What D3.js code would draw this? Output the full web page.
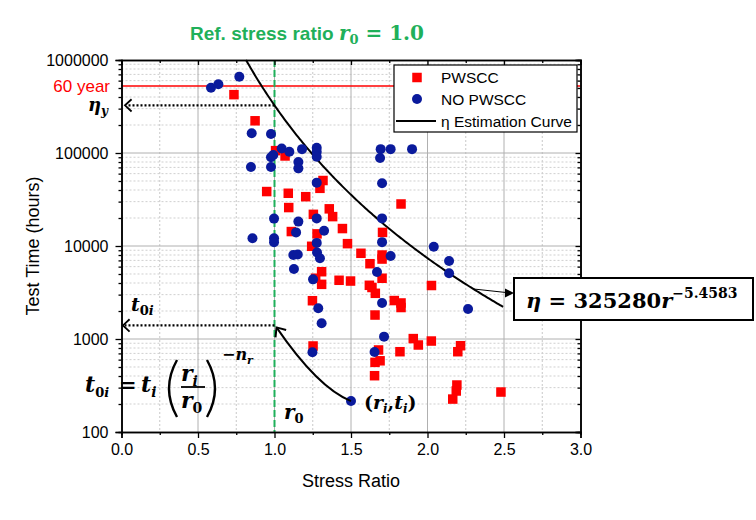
<!DOCTYPE html>
<html><head><meta charset="utf-8">
<script src="https://cdn.jsdelivr.net/npm/d3@7"></script>
<style>body{margin:0;background:#fff}</style>
</head><body>
<svg id="c" width="756" height="520"></svg>
<script>
// ---------- data ----------
const xTicks = [0, 0.5, 1, 1.5, 2, 2.5, 3];
const xTickLabels = ["0.0", "0.5", "1.0", "1.5", "2.0", "2.5", "3.0"];
const yTicks = [100, 1000, 10000, 100000, 1000000];
const yTickLabels = ["100", "1000", "10000", "100000", "1000000"];

const pwsccR = [0.735, 0.873, 1.007, 1.069, 1.317, 1.297, 0.949, 1.09, 1.204, 1.093, 1.358, 1.38, 1.254, 1.444, 1.11, 1.278, 1.477, 1.243, 1.565, 1.706, 1.703, 1.703, 1.624, 1.703, 1.62, 1.637, 1.659, 1.783, 1.827, 1.827, 1.657, 1.827, 2.026, 1.308, 1.269, 1.308, 1.422, 1.497, 1.248, 1.252, 1.907, 1.94, 2.025, 1.68, 1.82, 2.216, 2.198, 1.657, 1.69, 1.654, 2.192, 2.188, 2.165, 2.48];
const pwsccT = [424000, 222000, 106000, 92900, 50600, 41700, 38500, 36900, 33900, 25900, 25100, 20700, 21900, 15400, 14300, 13500, 10600, 9930, 8350, 14000, 8000, 7240, 6450, 4500, 3780, 3580, 3100, 2590, 2440, 2180, 1810, 28300, 3760, 5290, 4500, 3870, 4280, 4200, 2580, 841, 1010, 862, 951, 762, 730, 847, 730, 561, 583, 403, 320, 276, 226, 269];

const noPwsccR = [0.77, 0.585, 0.633, 0.851, 0.977, 1.047, 1.097, 1.18, 1.276, 1.276, 1.276, 0.977, 0.992, 0.846, 0.977, 1.156, 1.156, 1.276, 0.997, 1.156, 1.276, 1.141, 1.324, 0.856, 0.997, 0.997, 1.276, 1.123, 1.152, 1.127, 1.278, 1.297, 1.252, 1.286, 1.308, 1.248, 1.5, 1.694, 1.759, 1.899, 1.69, 1.703, 1.703, 1.703, 2.041, 1.759, 2.141, 2.141, 1.67, 1.703, 2.265, 1.716, 1.654];
const noPwsccT = [661000, 504000, 548000, 163000, 160000, 112000, 103000, 110000, 114000, 103000, 91000, 90000, 95000, 70700, 70700, 80000, 68400, 48000, 19700, 18300, 19800, 14000, 14600, 12100, 12100, 11000, 10800, 8000, 8100, 5660, 8500, 7380, 4380, 2140, 1475, 721, 215, 110000, 110000, 110000, 88300, 47200, 19800, 11000, 9830, 7800, 6900, 5090, 5250, 2440, 2100, 1060, 725];

const curveA = 325280;
const curveN = 5.4583;
const curveR = [0.814, 2.5];        // range of the estimation curve
const sixtyYearHours = 525600;      // 60 years
const refRatio = 1.0;
const exampleR = 1.5, exampleT = 215;   // (r_i, t_i)
const t0iValue = 1400;
const pointerR = 2.3;               // where the equation pointer touches the curve

// ---------- setup ----------
const svg = d3.select("#c");
const L = 121.5, R = 580.5, T = 60, B = 432;
const x = d3.scaleLinear().domain([0, 3]).range([L, R]);
const y = d3.scaleLog().domain([100, 1000000]).range([B, T]);
const sans = "'Liberation Sans', Arial, sans-serif";
const serif = "'DejaVu Serif', serif";
const RED = "#ff0000", BLUE = "#0a1a9c", GREEN = "#1fb05a";

// ---------- grid ----------
const g = svg.append("g");
const minorX = d3.range(0.25, 3, 0.5);
g.selectAll(".mx").data(minorX).enter().append("line")
  .attr("x1", d => x(d)).attr("x2", d => x(d)).attr("y1", T).attr("y2", B)
  .attr("stroke", "#c8c8c8").attr("stroke-width", 1).attr("stroke-dasharray", "2,2");
const minorY = [];
[100, 1000, 10000, 100000].forEach(d => { for (let k = 2; k <= 9; k++) minorY.push(d * k); });
g.selectAll(".my").data(minorY).enter().append("line")
  .attr("x1", L).attr("x2", R).attr("y1", d => y(d)).attr("y2", d => y(d))
  .attr("stroke", "#cfcfcf").attr("stroke-width", 1).attr("stroke-dasharray", "2,2");
g.selectAll(".gx").data(xTicks.slice(1, -1)).enter().append("line")
  .attr("x1", d => x(d)).attr("x2", d => x(d)).attr("y1", T).attr("y2", B)
  .attr("stroke", "#b0b0b0").attr("stroke-width", 1);
g.selectAll(".gy").data(yTicks.slice(1, -1)).enter().append("line")
  .attr("x1", L).attr("x2", R).attr("y1", d => y(d)).attr("y2", d => y(d))
  .attr("stroke", "#b0b0b0").attr("stroke-width", 1);

// ---------- 60 year line ----------
svg.append("line").attr("x1", L).attr("x2", R).attr("y1", y(sixtyYearHours)).attr("y2", y(sixtyYearHours))
  .attr("stroke", RED).attr("stroke-width", 1.3);

// ---------- reference line ----------
svg.append("line").attr("x1", x(refRatio)).attr("x2", x(refRatio)).attr("y1", T).attr("y2", B)
  .attr("stroke", GREEN).attr("stroke-width", 2).attr("stroke-dasharray", "7,3");

// ---------- estimation curve ----------
const eta = r => curveA * Math.pow(r, -curveN);
const cr = d3.range(curveR[0], curveR[1] + 0.0001, 0.01);
svg.append("path").datum(cr)
  .attr("d", d3.line().x(d => x(d)).y(d => y(eta(d))))
  .attr("fill", "none").attr("stroke", "#000").attr("stroke-width", 2);

// ---------- points ----------
const sq = 9.5;
svg.append("g").selectAll("rect").data(pwsccR).enter().append("rect")
  .attr("x", d => x(d) - sq / 2).attr("y", (d, i) => y(pwsccT[i]) - sq / 2)
  .attr("width", sq).attr("height", sq).attr("fill", RED);
svg.append("g").selectAll("circle").data(noPwsccR).enter().append("circle")
  .attr("cx", d => x(d)).attr("cy", (d, i) => y(noPwsccT[i])).attr("r", 5).attr("fill", BLUE);

// ---------- axes ----------
function styleAxis(sel) {
  sel.select(".domain").attr("stroke", "#000").attr("stroke-width", 1.5);
  sel.selectAll(".tick line").attr("stroke", "#000").attr("stroke-width", 1.3);
  sel.selectAll("text").attr("font-family", sans).attr("font-size", 16).attr("fill", "#000");
}
const minorXTicks = d3.range(0.25, 3, 0.5);
svg.append("g").attr("transform", `translate(0,${B})`)
  .call(d3.axisBottom(x).tickValues(xTicks).tickFormat((d, i) => xTickLabels[i]).tickSizeOuter(0).tickSize(6).tickPadding(6))
  .call(styleAxis);
svg.append("g").attr("transform", `translate(0,${B})`)
  .call(d3.axisBottom(x).tickValues(minorXTicks).tickFormat("").tickSizeOuter(0).tickSize(3))
  .call(styleAxis);
svg.append("g").attr("transform", `translate(0,${T})`)
  .call(d3.axisBottom(x).tickValues(xTicks).tickFormat("").tickSizeOuter(0).tickSize(5))
  .call(styleAxis);
svg.append("g").attr("transform", `translate(0,${T})`)
  .call(d3.axisBottom(x).tickValues(minorXTicks).tickFormat("").tickSizeOuter(0).tickSize(3))
  .call(styleAxis);
svg.append("g").attr("transform", `translate(${L},0)`)
  .call(d3.axisLeft(y).tickValues(yTicks).tickFormat((d, i) => yTickLabels[i]).tickSizeOuter(0).tickSize(6).tickPadding(7))
  .call(styleAxis);
svg.append("g").attr("transform", `translate(${L},0)`)
  .call(d3.axisLeft(y).tickValues(minorY).tickFormat("").tickSizeOuter(0).tickSize(3))
  .call(styleAxis);
svg.append("g").attr("transform", `translate(${R},0)`)
  .call(d3.axisLeft(y).tickValues(yTicks).tickFormat("").tickSizeOuter(0).tickSize(5))
  .call(styleAxis);
svg.append("g").attr("transform", `translate(${R},0)`)
  .call(d3.axisLeft(y).tickValues(minorY).tickFormat("").tickSizeOuter(0).tickSize(3))
  .call(styleAxis);

// axis titles
svg.append("text").attr("x", (L + R) / 2).attr("y", 487).attr("text-anchor", "middle")
  .attr("font-family", sans).attr("font-size", 18).text("Stress Ratio");
svg.append("text").attr("transform", `translate(39,${(T + B) / 2}) rotate(-90)`).attr("text-anchor", "middle")
  .attr("font-family", sans).attr("font-size", 18).text("Test Time (hours)");

// 60 year label
svg.append("text").attr("x", 110).attr("y", y(sixtyYearHours) + 6).attr("text-anchor", "end")
  .attr("font-family", sans).attr("font-size", 17).attr("fill", RED).text("60 year");

// ---------- title ----------
const title = svg.append("text").attr("x", 190).attr("y", 40).attr("fill", GREEN);
title.append("tspan").attr("font-family", sans).attr("font-weight", "bold").attr("font-size", 19).text("Ref. stress ratio ");
title.append("tspan").attr("font-family", serif).attr("font-weight", "bold").attr("font-style", "italic").attr("font-size", 20).text("r");
title.append("tspan").attr("font-family", serif).attr("font-weight", "bold").attr("font-size", 13).attr("dy", 4).text("0");
title.append("tspan").attr("font-family", serif).attr("font-weight", "bold").attr("font-size", 20).attr("dy", -4).text(" = 1.0");

// ---------- legend ----------
const lg = svg.append("g");
lg.append("rect").attr("x", 394).attr("y", 65).attr("width", 183).attr("height", 67)
  .attr("fill", "#fff").attr("stroke", "#000").attr("stroke-width", 1.2);
lg.append("rect").attr("x", 417 - 4.75).attr("y", 77.5 - 4.75).attr("width", 9.5).attr("height", 9.5).attr("fill", RED);
lg.append("circle").attr("cx", 417).attr("cy", 99).attr("r", 5).attr("fill", BLUE);
lg.append("line").attr("x1", 396).attr("x2", 436).attr("y1", 121).attr("y2", 121).attr("stroke", "#000").attr("stroke-width", 2);
[["PWSCC", 77.5], ["NO PWSCC", 99], ["\u03B7 Estimation Curve", 121]].forEach(([t, yy]) => {
  lg.append("text").attr("x", 441).attr("y", yy + 5.5).attr("font-family", sans).attr("font-size", 15.5).text(t);
});

// ---------- annotations ----------
function chevron(tx, ty, ang, len, spread) {
  const a1 = ang + Math.PI - spread, a2 = ang + Math.PI + spread;
  return `M${tx + len * Math.cos(a1)},${ty + len * Math.sin(a1)}L${tx},${ty}L${tx + len * Math.cos(a2)},${ty + len * Math.sin(a2)}`;
}
// eta_y arrow
const etaY = y(eta(refRatio));
svg.append("line").attr("x1", x(refRatio)).attr("x2", 127).attr("y1", etaY).attr("y2", etaY)
  .attr("stroke", "#000").attr("stroke-width", 2.2).attr("stroke-dasharray", "2,2");
svg.append("path").attr("d", chevron(125, etaY, Math.PI, 9, 0.75)).attr("fill", "none").attr("stroke", "#000").attr("stroke-width", 1.8);
const ey = svg.append("text").attr("x", 88).attr("y", etaY + 6).attr("font-family", serif).attr("font-weight", "bold").attr("font-style", "italic");
ey.append("tspan").attr("font-size", 18).text("\u03B7");
ey.append("tspan").attr("font-size", 12).attr("dy", 4).text("y");

// t0i arrow
const t0Y = y(t0iValue);
svg.append("line").attr("x1", x(refRatio)).attr("x2", 125).attr("y1", t0Y).attr("y2", t0Y)
  .attr("stroke", "#000").attr("stroke-width", 2.2).attr("stroke-dasharray", "2,2");
svg.append("path").attr("d", chevron(123, t0Y, Math.PI, 9, 0.75)).attr("fill", "none").attr("stroke", "#000").attr("stroke-width", 1.8);
const tl = svg.append("text").attr("x", 131).attr("y", t0Y - 14).attr("font-family", serif).attr("font-weight", "bold").attr("font-style", "italic");
tl.append("tspan").attr("font-size", 19).text("t");
tl.append("tspan").attr("font-size", 13).attr("font-style", "normal").attr("dy", 4).text("0");
tl.append("tspan").attr("font-size", 13).text("i");

// curved arrow from (r_i,t_i) to (r0,t0i)
const p0 = [x(exampleR), y(exampleT)], p2 = [x(refRatio) + 2, t0Y + 2], cp = [318, 388];
svg.append("path").attr("d", `M${p0[0]},${p0[1]}Q${cp[0]},${cp[1]} ${p2[0]},${p2[1]}`)
  .attr("fill", "none").attr("stroke", "#000").attr("stroke-width", 2);
svg.append("path").attr("d", chevron(p2[0], p2[1], Math.atan2(p2[1] - cp[1], p2[0] - cp[0]), 10, 0.7))
  .attr("fill", "none").attr("stroke", "#000").attr("stroke-width", 2);

// (r_i, t_i) label
const ri = svg.append("text").attr("x", 364).attr("y", 409).attr("font-family", serif).attr("font-weight", "bold").attr("font-style", "italic").attr("font-size", 19);
ri.append("tspan").attr("font-style", "normal").text("(");
ri.append("tspan").text("r");
ri.append("tspan").attr("font-size", 12).attr("dy", 4).text("i");
ri.append("tspan").attr("dy", -4).attr("font-style", "normal").text(",");
ri.append("tspan").text("t");
ri.append("tspan").attr("font-size", 12).attr("dy", 4).text("i");
ri.append("tspan").attr("dy", -4).attr("font-style", "normal").text(")");

// r0 label
const r0l = svg.append("text").attr("x", 284).attr("y", 419).attr("font-family", serif).attr("font-weight", "bold").attr("font-style", "italic");
r0l.append("tspan").attr("font-size", 20).text("r");
r0l.append("tspan").attr("font-size", 13).attr("font-style", "normal").attr("dy", 4).text("0");

// formula t0i = t_i (r_i/r_0)^(-n_r)
function mt(xx, yy, parts) {
  const t = svg.append("text").attr("x", xx).attr("y", yy).attr("font-family", serif).attr("font-weight", "bold");
  parts.forEach(p => {
    const s = t.append("tspan").attr("font-size", p.s).text(p.t);
    if (p.i) s.attr("font-style", "italic");
    if (p.dy) s.attr("dy", p.dy);
  });
}
mt(85, 392, [{t: "t", s: 22, i: 1}, {t: "0", s: 13, dy: 5}, {t: "i", s: 13, i: 1}]);
mt(119, 392, [{t: "=", s: 21}]);
mt(141, 392, [{t: "t", s: 22, i: 1}, {t: "i", s: 14, i: 1, dy: 5}]);
svg.append("path").attr("d", "M177,360 Q161,388.5 177,417").attr("fill", "none").attr("stroke", "#000").attr("stroke-width", 2.4);
svg.append("path").attr("d", "M207,360 Q223,388.5 207,417").attr("fill", "none").attr("stroke", "#000").attr("stroke-width", 2.4);
mt(181, 381, [{t: "r", s: 22, i: 1}, {t: "i", s: 14, i: 1, dy: 5}]);
svg.append("line").attr("x1", 181).attr("x2", 205).attr("y1", 387).attr("y2", 387).attr("stroke", "#000").attr("stroke-width", 1.8);
mt(181, 408, [{t: "r", s: 22, i: 1}, {t: "0", s: 14, dy: 5}]);
mt(222, 360, [{t: "\u2212", s: 16}, {t: "n", s: 16, i: 1}, {t: "r", s: 11, i: 1, dy: 4}]);

// equation box with pointer
const pr = [x(pointerR), y(eta(pointerR))];
svg.append("line").attr("x1", pr[0]).attr("y1", pr[1]).attr("x2", 506).attr("y2", 292.5).attr("stroke", "#000").attr("stroke-width", 1);
svg.append("path").attr("d", "M514,293L505,288.5L505,297.5Z").attr("fill", "#000");
svg.append("rect").attr("x", 514).attr("y", 278).attr("width", 239).attr("height", 42)
  .attr("fill", "#fff").attr("stroke", "#000").attr("stroke-width", 2);
mt(526, 308, [{t: "\u03B7", s: 21, i: 1}, {t: " = 325280", s: 21}, {t: "r", s: 21, i: 1}, {t: "\u22125.4583", s: 14, dy: -10}]);
</script>
</body></html>
